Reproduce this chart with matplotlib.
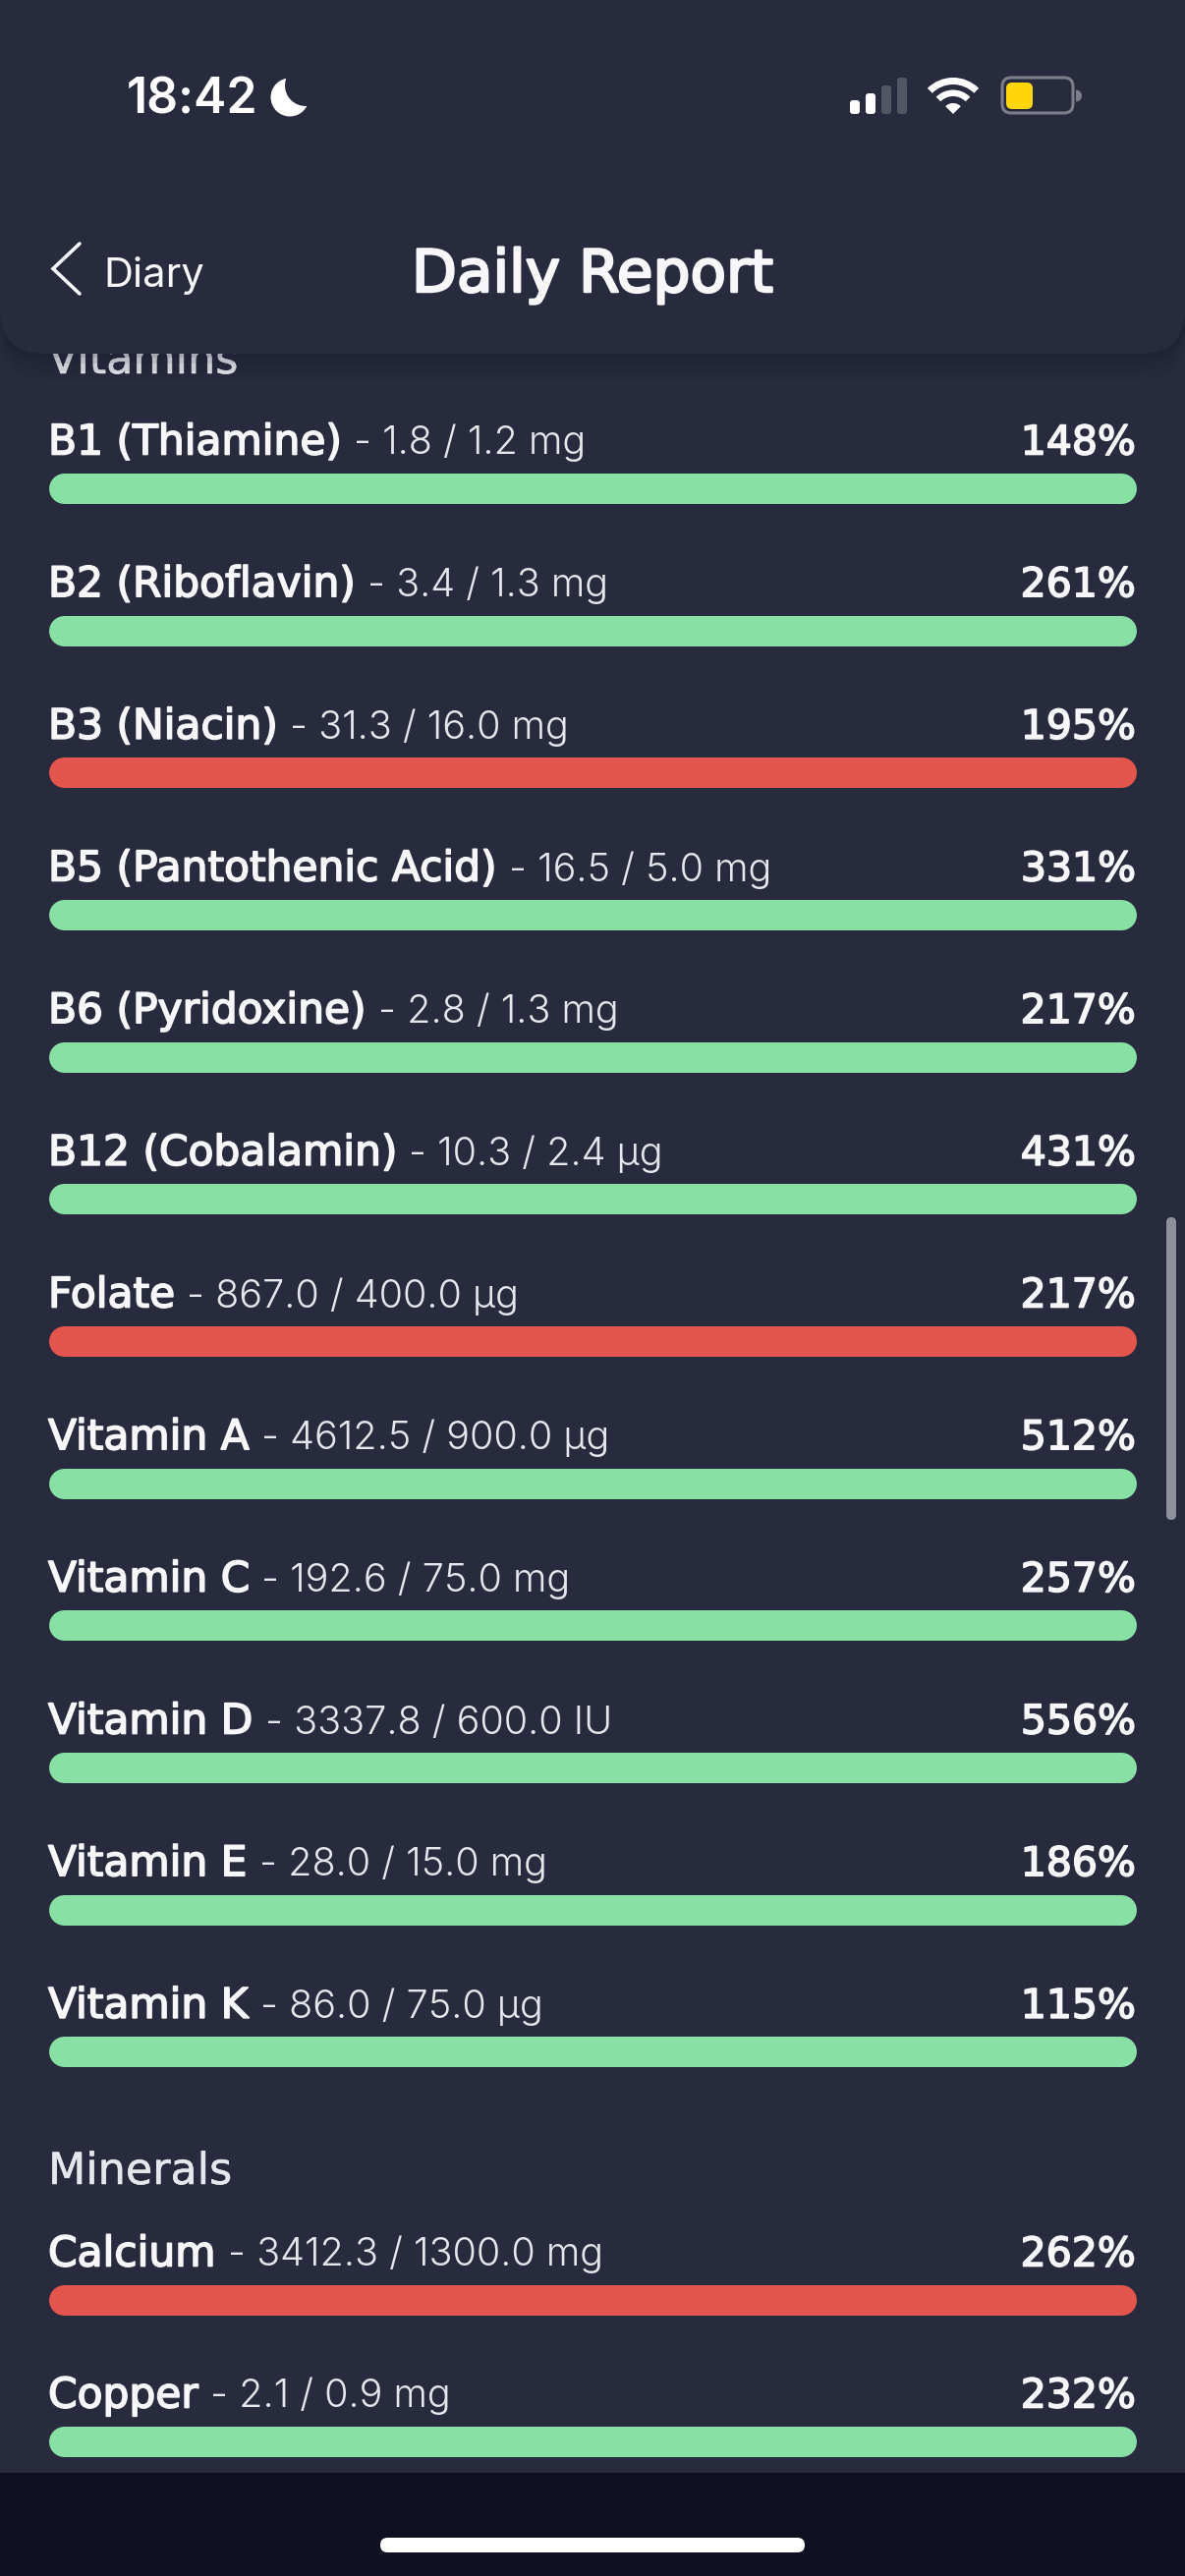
import matplotlib
matplotlib.use("Agg")
import matplotlib.pyplot as plt
import matplotlib.patheffects as pe
from matplotlib.patches import FancyBboxPatch, Wedge, Circle, Rectangle

#Datos
vitamin_names = ["B1 (Thiamine)", "B2 (Riboflavin)", "B3 (Niacin)", "B5 (Pantothenic Acid)", "B6 (Pyridoxine)",
                 "B12 (Cobalamin)", "Folate", "Vitamin A", "Vitamin C", "Vitamin D", "Vitamin E", "Vitamin K"]
vitamin_amounts = [1.8, 3.4, 31.3, 16.5, 2.8, 10.3, 867.0, 4612.5, 192.6, 3337.8, 28.0, 86.0]
vitamin_targets = [1.2, 1.3, 16.0, 5.0, 1.3, 2.4, 400.0, 900.0, 75.0, 600.0, 15.0, 75.0]
vitamin_units = ["mg", "mg", "mg", "mg", "mg", "µg", "µg", "µg", "mg", "IU", "mg", "µg"]
vitamin_percents = [148, 261, 195, 331, 217, 431, 217, 512, 257, 556, 186, 115]
vitamin_flagged = [False, False, True, False, False, False, True, False, False, False, False, False]

mineral_names = ["Calcium", "Copper"]
mineral_amounts = [3412.3, 2.1]
mineral_targets = [1300.0, 0.9]
mineral_units = ["mg", "mg"]
mineral_percents = [262, 232]
mineral_flagged = [True, False]

BG = "#282b3d"
NAV = "#0f1123"
GREEN = "#88e0a5"
RED = "#e4554d"
WHITE = "#f7f7fa"

W, H = 1206, 2622
DPI = 100
FONT = "Inter"
WIDE = "DejaVu Sans"

fig = plt.figure(figsize=(W / DPI, H / DPI), dpi=DPI, facecolor=BG)

#Ejes en pixeles para todo lo que es interfaz
ax = fig.add_axes([0, 0, 1, 1])
ax.set_xlim(0, W)
ax.set_ylim(H, 0)
ax.axis("off")

#Ejes de las barras: x en porcentaje, y en pixeles. Los extremos redondos salen del rango
BAR_H = 31
BAR_L, BAR_R = 49, 1156
ax_bars = fig.add_axes([(BAR_L + BAR_H / 2) / W, 0, (BAR_R - BAR_L - BAR_H) / W, 1])
ax_bars.set_xlim(0, 100)
ax_bars.set_ylim(H, 0)
ax_bars.axis("off")
ax_bars.patch.set_alpha(0)

renderer = fig.canvas.get_renderer()


def grueso(x, y, texto, size=30.5, stroke=1.2, color=WHITE, **kw):
    #DejaVu regular con un trazo fino: da el ancho y el peso de la fuente original
    return ax.text(x, y, texto, color=color, fontsize=size, family=WIDE, va="baseline",
                   path_effects=[pe.withStroke(linewidth=stroke, foreground=color)], **kw)


def fila(y_bar, name, amount, target, unit, percent, flagged):
    color = RED if flagged else GREEN
    ax_bars.plot([0, min(percent, 100)], [y_bar, y_bar], color=color, lw=BAR_H * 72 / DPI,
                 solid_capstyle="round", clip_on=False, zorder=2)
    baseline = y_bar - 34.5
    t = grueso(BAR_L, baseline, name, zorder=2)
    box = t.get_window_extent(renderer)
    ax.text(box.x1 + 12, baseline, f"- {amount:.1f} / {target:.1f} {unit}", color="#e6e7ec", fontsize=28.5,
            family=FONT, weight=300, va="baseline", zorder=2)
    grueso(BAR_R, baseline, f"{percent}%", size=29.5, ha="right", zorder=2)


#Vitaminas
grueso(BAR_L, 380, "Vitamins", size=32, stroke=0.4, color="#e6e7ec", zorder=1)
ROW_STEP = 144.67
y0 = 497
for i in range(len(vitamin_names)):
    fila(y0 + i * ROW_STEP, vitamin_names[i], vitamin_amounts[i], vitamin_targets[i], vitamin_units[i],
         vitamin_percents[i], vitamin_flagged[i])

#Minerales
grueso(BAR_L, 2223, "Minerals", size=32, stroke=0.4, color="#e6e7ec", zorder=1)
y1 = 2341
for i in range(len(mineral_names)):
    fila(y1 + i * 144, mineral_names[i], mineral_amounts[i], mineral_targets[i], mineral_units[i],
         mineral_percents[i], mineral_flagged[i])

#Barra de scroll
ax.add_patch(FancyBboxPatch((1187 + 5, 1239 + 5), 0, 298, boxstyle="round,pad=5", fc="#8e909b", ec="none", zorder=3))

#Sombra y cabecera
for grow, alpha in [(26, 0.05), (18, 0.07), (10, 0.09), (4, 0.12)]:
    ax.add_patch(FancyBboxPatch((0, -100), W, 460 + grow, boxstyle="round,pad=0,rounding_size=45",
                                fc="#14162a", ec="none", alpha=alpha, zorder=4))
ax.add_patch(FancyBboxPatch((0, -100), W, 460, boxstyle="round,pad=0,rounding_size=45", fc=BG, ec="none", zorder=5))

#Barra de estado
ax.text(129, 116, "18:42", color="white", fontsize=36, family=FONT, weight=600, va="baseline", zorder=6)
ax.add_patch(Circle((295, 99), 19.5, fc="white", ec="none", zorder=6))
ax.add_patch(Circle((311, 87), 21, fc=BG, ec="none", zorder=6))

sig_x = [865, 881, 897, 913]
sig_top = [102, 95, 87, 79]
sig_col = ["white", "white", "#535663", "#535663"]
for x, top, c in zip(sig_x, sig_top, sig_col):
    ax.add_patch(FancyBboxPatch((x + 3, top + 3), 4, 116 - top - 6, boxstyle="round,pad=3", fc=c, ec="none", zorder=6))

wifi = (970, 116)
ax.add_patch(Wedge(wifi, 37, 225, 315, width=7, fc="white", ec="none", zorder=6))
ax.add_patch(Wedge(wifi, 24.5, 225, 315, width=6.5, fc="white", ec="none", zorder=6))
ax.add_patch(Wedge(wifi, 11, 225, 315, fc="white", ec="none", zorder=6))

ax.add_patch(FancyBboxPatch((1029, 88), 54, 18, boxstyle="round,pad=9", fc="none", ec="#7c7e8a", lw=2.2, zorder=6))
ax.add_patch(FancyBboxPatch((1030, 90), 15, 15, boxstyle="round,pad=6", fc="#ffd60a", ec="none", zorder=6))
ax.add_patch(Wedge((1095, 97.5), 6, 270, 90, fc="#7c7e8a", ec="none", zorder=6))

#Navegacion
ax.plot([81, 54, 81], [248, 273.5, 299], color=WHITE, lw=2.6, solid_capstyle="round", solid_joinstyle="miter", zorder=6)
ax.text(105, 292, "Diary", color=WHITE, fontsize=30, family=FONT, weight=400, va="baseline", zorder=6)
grueso(603, 297, "Daily Report", size=43, stroke=1.8, ha="center", zorder=6)

#Zona inferior
ax.add_patch(Rectangle((0, 2517), W, H - 2517, fc=NAV, ec="none", zorder=6))
ax.add_patch(FancyBboxPatch((387 + 7.5, 2583 + 7.5), 432 - 15, 0, boxstyle="round,pad=7.5", fc="white", ec="none", zorder=7))

fig.savefig("out.png", dpi=DPI, facecolor=BG)
